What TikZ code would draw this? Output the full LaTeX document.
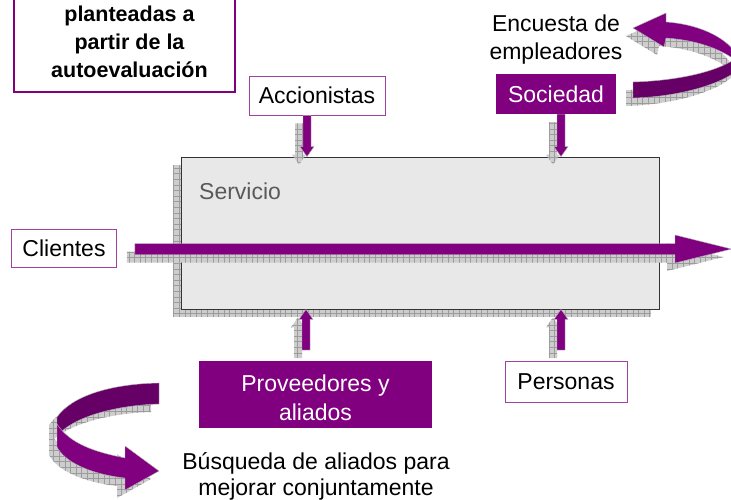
\documentclass[tikz,border=0pt]{standalone}
\usepackage{fontspec}
\setmainfont{Liberation Sans}
\usetikzlibrary{calc}
\definecolor{violeta}{HTML}{800080}
\definecolor{violetaosc}{HTML}{660066}
\definecolor{caja}{HTML}{E8E8E8}
\definecolor{sombra}{HTML}{CDCDCD}
\definecolor{rejilla}{HTML}{9C9C9C}
\tikzset{
  x=1pt,y=-1pt,
  txt/.style={font=\fontsize{#1}{28.5}\selectfont,align=center,inner sep=0pt},
  txt/.default=23,
  thinbox/.style={txt,draw=violeta!75,line width=.8pt,fill=white},
  solidbox/.style={txt,fill=violeta,text=white},
  gridshadow/.style={fill=sombra,path picture={
    \draw[rejilla,line width=.35pt] (path picture bounding box.south west) grid[step=5.6pt] (path picture bounding box.north east);}},
  bandlight/.style={fill=violeta,draw=gray!60,line width=.4pt},
  banddark/.style={fill=violetaosc,draw=gray!60,line width=.4pt},
}
\newcommand{\fatpoly}[6]{% style, from, to, half shaft, half head, head length
  \coordinate (hh) at ($(#3)!#6pt!(#2)$);
  \path[#1] ($(#2)!#4pt!90:(#3)$) -- ($(hh)!#4pt!90:(#3)$) -- ($(hh)!#5pt!90:(#3)$) -- (#3)
    -- ($(hh)!#5pt!-90:(#3)$) -- ($(hh)!#4pt!-90:(#3)$) -- ($(#2)!#4pt!-90:(#3)$) -- cycle;}
\newcommand{\fatarrow}[7]{% from, to, half shaft, half head, head length, shadow dx, dy
  \coordinate (sa) at ($(#1)+(#6,#7)$);
  \coordinate (sb) at ($(#2)+(#6,#7)$);
  \fatpoly{gridshadow}{sa}{sb}{#3}{#4}{#5}
  \fatpoly{bandlight}{#1}{#2}{#3}{#4}{#5}}
\begin{document}
\begin{tikzpicture}
\clip (0,0) rectangle (731,499);
\fill[white] (0,0) rectangle (731,499);

% main box
\fill[gridshadow] (173,165) rectangle (651,317);
\node[draw=black!80,line width=.8pt,fill=caja,minimum width=478pt,minimum height=152pt,inner sep=0pt] (serv) at (420,233) {};
\node[txt=23,text=black!65,anchor=west] (servt) at (199,191) {Servicio};

% boxes
\node[draw=violeta,line width=1.6pt,fill=white,minimum width=221pt,minimum height=112pt,inner sep=0pt] (auto) at (124.5,36) {};
\node[txt=21.5,font=\fontsize{21.5}{28}\selectfont\bfseries] (autot) at (129.5,42) {planteadas a\\partir de la\\autoevaluación};
\node[thinbox,minimum width=136pt,minimum height=39pt] (acc) at (317,95.5) {Accionistas};
\node[solidbox,minimum width=120pt,minimum height=40pt] (soc) at (556,94) {Sociedad};
\node[txt] (enc) at (556,39.5) {Encuesta de\\empleadores};
\node[thinbox,minimum width=105pt,minimum height=38pt] (cli) at (64,248.5) {Clientes};
\node[solidbox,minimum width=233pt,minimum height=67pt] (prov) at (315.5,394.5) {};
\node[txt,text=white] (provt) at (315.5,398) {Proveedores y\\aliados};
\node[thinbox,minimum width=122pt,minimum height=41pt] (per) at (566,381.5) {Personas};
\node[txt=23,font=\fontsize{23}{26}\selectfont] (bus) at (316,476.5) {Búsqueda de aliados para\\mejorar conjuntamente};

% block connectors
\coordinate (xa) at (307,0);
\coordinate (xs) at (561,0);
\coordinate (xp) at (306,0);
\coordinate (xq) at (561,0);
\coordinate (a1) at (xa |- acc.south);
\coordinate (a2) at (xa |- serv.north);
\coordinate (s1) at (xs |- soc.south);
\coordinate (s2) at (xs |- serv.north);
\coordinate (p1) at (306,350);
\coordinate (p2) at (xp |- serv.south);
\coordinate (q1) at (561,350);
\coordinate (q2) at (xq |- serv.south);
\fatarrow{a1}{a2}{4}{7}{10}{-8}{8}
\fatarrow{s1}{s2}{4}{7}{10}{-8}{8}
\fatarrow{p1}{p2}{4}{7}{10}{-8}{8}
\fatarrow{q1}{q2}{4}{7}{10}{-8}{8}
\coordinate (m1) at ($(cli.east)+(18,0.5)$);
\coordinate (m2) at (731.5,249);
\fatarrow{m1}{m2}{5.5}{14}{56.5}{-8}{8}

% curved arrow, top right
\begin{scope}[shift={(-7,8)}]
\path[gridshadow] (633,28) -- (666,13) -- (666,22) .. controls (695,24) and (725,35) .. (738,56)
    -- (738,62) .. controls (720,48) and (695,40) .. (666,38) -- (664,47) -- cycle;
\path[gridshadow] (633,82) .. controls (670,81) and (715,74) .. (738,57) -- (738,70) .. controls (715,88) and (670,97) .. (633,98) -- cycle;
\end{scope}
\path[bandlight] (633,28) -- (666,13) -- (666,22) .. controls (695,24) and (725,35) .. (738,56)
    -- (738,62) .. controls (720,48) and (695,40) .. (666,38) -- (664,47) -- cycle;
\path[banddark] (633,82) .. controls (670,81) and (715,74) .. (738,57) -- (738,70) .. controls (715,88) and (670,97) .. (633,98) -- cycle;

% curved arrow, bottom left
\begin{scope}[shift={(-8,8)}]
\path[gridshadow] (159,383) .. controls (110,384) and (72,396) .. (57,417) -- (57,427) -- (62,431) .. controls (80,415) and (120,405) .. (159,404) -- cycle;
\path[gridshadow] (57,424) -- (57,447) .. controls (65,462) and (90,474) .. (125,478) -- (125,490) -- (159,471) -- (125,446) -- (125,458) .. controls (95,452) and (70,444) .. (57,424) -- cycle;
\end{scope}
\path[banddark] (159,383) .. controls (110,384) and (72,396) .. (57,417) -- (57,427) -- (62,431) .. controls (80,415) and (120,405) .. (159,404) -- cycle;
\path[bandlight] (57,424) -- (57,447) .. controls (65,462) and (90,474) .. (125,478) -- (125,490) -- (159,471) -- (125,446) -- (125,458) .. controls (95,452) and (70,444) .. (57,424) -- cycle;
\end{tikzpicture}
\end{document}
